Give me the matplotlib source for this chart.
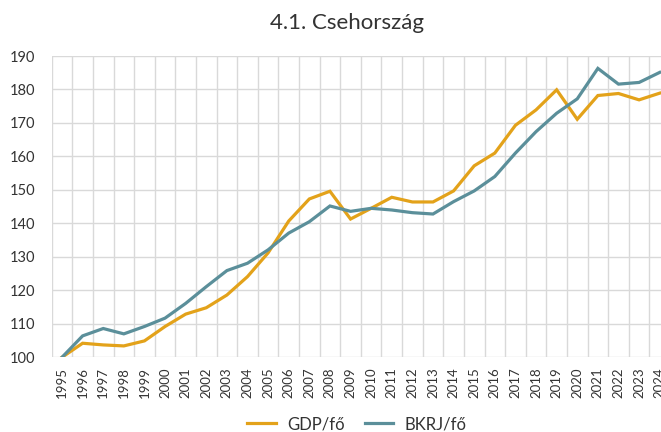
import matplotlib
matplotlib.use("Agg")
import matplotlib.pyplot as plt
import numpy as np

years = [str(y) for y in range(1995, 2025)]
gdp = [100, 104.2, 103.7, 103.4, 104.9, 109.2, 112.9, 114.8, 118.6, 124.1,
       131.2, 140.7, 147.3, 149.6, 141.3, 144.5, 147.8, 146.4, 146.4, 149.7,
       157.2, 161.0, 169.3, 173.9, 179.9, 171.1, 178.2, 178.8, 176.9, 178.9]
bkrj = [100, 106.4, 108.6, 107.0, 109.2, 111.7, 116.1, 121.1, 125.9, 128.1,
        132.1, 137.1, 140.5, 145.2, 143.6, 144.5, 144.0, 143.2, 142.8, 146.5,
        149.7, 154.0, 161.0, 167.4, 172.9, 177.2, 186.3, 181.6, 182.1, 185.1]
title = "4.1. Csehország"
series_names = ["GDP/fő", "BKRJ/fő"]

plt.rcParams['font.family'] = ['Lato', 'DejaVu Sans']
text_color = '#333333'
c_gdp = '#E3A21A'
c_bkrj = '#5B8F9A'

fig = plt.figure(figsize=(6.61, 4.32), dpi=100)
ax = fig.add_axes([51.7/661, (432-357.3)/432, (670-51.7)/661, (357.3-56)/432])

x = np.arange(len(years))
ax.plot(x, gdp, color=c_gdp, lw=2.3, label=series_names[0], solid_joinstyle='miter', zorder=3)
ax.plot(x, bkrj, color=c_bkrj, lw=2.3, label=series_names[1], solid_joinstyle='miter', zorder=3)

ax.set_xlim(-0.5, len(years) - 0.5)
ax.set_ylim(100, 190)
ax.set_yticks(np.arange(100, 191, 10))
ax.set_xticks(x)
ax.set_xticklabels(years, rotation=90, fontsize=9.5, color=text_color)
ax.set_xticks(np.arange(-0.5, len(years), 1), minor=True)
ax.tick_params(axis='x', which='both', length=0, pad=7)
ax.tick_params(axis='y', length=0, pad=12, labelsize=10.5, labelcolor=text_color)
ax.grid(True, axis='x', which='minor', color='#d9d9d9', lw=1)
ax.grid(True, axis='y', which='major', color='#d9d9d9', lw=1)
ax.grid(False, axis='x', which='major')
for s in ax.spines.values():
    s.set_visible(False)
ax.set_axisbelow(True)

fig.text(347/661, 1 - 23/432, title, ha='center', va='center', fontsize=16, color=text_color)

fig.legend(loc='center', bbox_to_anchor=(357/661, 1 - 424/432), ncol=2, frameon=False,
           fontsize=12, handlelength=1.7, handletextpad=0.7, columnspacing=1.2,
           labelcolor=text_color)

fig.savefig("out.png", dpi=100)
